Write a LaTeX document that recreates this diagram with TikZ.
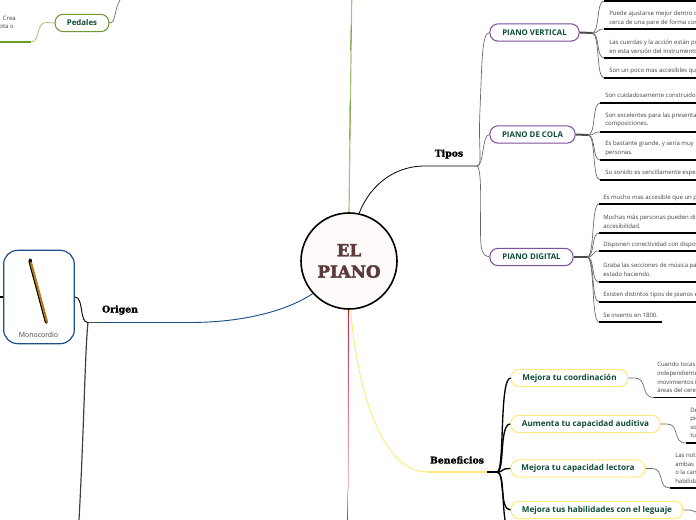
\documentclass[tikz,border=0pt]{standalone}
\usepackage{fontspec}
\setmainfont{Open Sans}
\newfontfamily\headfont[BoldFeatures={FakeBold=1.6}]{DejaVu Serif}
\newfontfamily\hubfont[BoldFeatures={FakeBold=2.5}]{DejaVu Serif}
\usetikzlibrary{calc}
\definecolor{titlegreen}{HTML}{0F4C3A}
\definecolor{leaftext}{HTML}{404040}
\definecolor{purp}{HTML}{7D4FA0}
\definecolor{yell}{HTML}{FFE97A}
\definecolor{greenb}{HTML}{6E9B2D}
\definecolor{greenl}{HTML}{A3C47A}
\definecolor{blueb}{HTML}{1F4E86}
\definecolor{redm}{HTML}{C0263F}
\definecolor{redl}{HTML}{F0C0C8}
\definecolor{brownt}{HTML}{5C3A3A}
\definecolor{wood}{HTML}{B87A1A}
\tikzset{
  x=0.75pt,y=-0.75pt,
  pill/.style={draw,rounded corners=6.2pt,line width=0.8pt,minimum height=13pt,inner sep=0pt,text=titlegreen,font=\bfseries\fontsize{5.9}{7}\selectfont},
  ptype/.style={pill,draw=purp,fill=white},
  pbene/.style={pill,draw=yell,fill=white,font=\bfseries\fontsize{6.1}{7}\selectfont},
  leaf/.style={anchor=west,inner sep=0pt,text=leaftext,align=left,font=\fontsize{4.5}{6.4}\selectfont},
  head/.style={inner sep=0pt,text=black,font=\headfont\bfseries\fontsize{7}{8}\selectfont},
  uline/.style={black,line width=0.8pt},
  twig/.style={draw=black!60,line width=0.5pt},
  stubline/.style={line width=1.5pt,draw=black!70},
}
\begin{document}
\begin{tikzpicture}
\useasboundingbox (0,0) rectangle (696,520);
\clip (0,0) rectangle (696,520);
% main straight branches
\coordinate (gtop) at (351.7,0);
\coordinate (rbot) at (347.4,520);
\draw[color=greenl,line width=0.9pt] (349,214) -- (gtop);
\draw[color=greenb,line width=0.6pt] (350.6,50) -- (351.3,25);
\draw[color=greenb,line width=0.6pt] (349.8,140) -- (350.2,100);
\shade[top color=redm,bottom color=redl] (347.9,309) rectangle (348.7,490);
\shade[top color=redl,bottom color=redm] (347.1,490) rectangle (347.9,520);
% central
\node[circle,draw=black,line width=1.2pt,fill=red!2,minimum size=72pt,inner sep=0pt,align=center,text=brownt,font=\hubfont\bfseries\fontsize{12.5}{16}\selectfont] (c) at (349,261) {EL\\PIANO};
\coordinate (tj) at (477,166);
\draw[black,line width=0.6pt] (c.78) .. controls (368,190) and (390,166) .. (425,166) -- (tj);
\node[head] (tipos) at (449,154) {Tipos};
\coordinate (bj) at (497,472);
\coordinate (bs) at (487,472);
\coordinate (ys) at (427,472);
\draw[yell,line width=0.7pt] (c.272) .. controls (358,400) and (385,472) .. (ys);
\draw[yell,line width=1.3pt] (ys) -- (bs);
\draw[black,line width=1.5pt] (bs) -- (bj);
\node[head] (bene) at (457,460) {Beneficios};
\coordinate (oj) at (88,322.5);
\coordinate (ob) at (100,322.5);
\draw[blueb,line width=0.7pt] (c.222) .. controls (285,312) and (240,322.5) .. (190,322.5) -- (ob);
\draw[black!70,line width=0.9pt] (ob) -- (oj);
\node[head] (orig) at (120,310) {Origen};
\coordinate (lb) at (79,520);
\draw[black!75,line width=0.9pt] (oj) .. controls (85,350) and (84,430) .. (lb);
% Monocordio
\node[draw=blueb,line width=0.9pt,fill=white,rounded corners=10.5pt,minimum width=53pt,minimum height=70pt,inner sep=0pt] (mono) at (39,297) {};
\node[inner sep=0pt,text=leaftext,font=\fontsize{5.2}{6.5}\selectfont] (monot) at (38.5,335) {Monocordio};
\coordinate (mwa) at (30.5,261);
\coordinate (mwb) at (47,322);
\draw[black,line width=2.2pt,line cap=round] ($(mwa)+(-0.6,0.4)$) -- ($(mwb)+(-0.7,0.3)$);
\draw[wood,line width=1.6pt,line cap=round] (mwa) -- (mwb);
\draw[black,line width=2.5pt,line cap=round] (30,260) -- (30.5,261);
\coordinate (mleft) at (0,297);
\draw[black,line width=0.9pt] (mleft) -- (mono.west);
\draw[black,line width=0.7pt] (mono.east) .. controls (84,297) and (79,322.5) .. (oj);
% Pedales
\node[pill,draw=greenb,minimum width=40.5pt,fill=white] (ped) at (82,23) {\raisebox{-0.5pt}{Pedales}};
\coordinate (pr) at (120,0);
\coordinate (pgl) at (0,42);
\coordinate (pg) at (31,42);
\draw[twig] (ped.east) .. controls (116,23) and (114,10) .. (pr);
\draw[greenl,line width=0.6pt] (ped.west) -- (46,22.5) .. controls (36,22.5) and (40,42) .. (pg);
\draw[greenb,line width=0.8pt] (pg) -- (pgl);
\node[leaf,anchor=east] (pt1) at (16,18) {. Crea};
\node[leaf,anchor=east] (pt2) at (14,27) {ota o};
% Tipos nodes
\node[ptype,minimum width=67pt] (pv) at (534.5,32.5) {\raisebox{-0.5pt}{PIANO VERTICAL}};
\node[ptype,minimum width=64pt] (pc) at (532.5,134.5) {\raisebox{-0.5pt}{PIANO DE COLA}};
\node[ptype,minimum width=62.5pt] (pd) at (531.5,257) {\raisebox{-0.5pt}{PIANO DIGITAL}};
\draw[twig] (tj) .. controls (483,166) and (478,150) .. (480,110) .. controls (482,60) and (482,33) .. (pv.west);
\draw[twig] (tj) .. controls (484,166) and (482,134.5) .. (pc.west);
\draw[twig] (tj) .. controls (484,170) and (478,240) .. (482,250) .. controls (484,255) and (486,257) .. (pd.west);
% Vertical leaves
\coordinate (vs) at (592,33);
\draw[stubline] (pv.east) -- (vs);
\foreach \y in {1,29,58,78}{
 \draw[twig] (vs) .. controls (600,33) and (596,\y) .. (604,\y);
 \draw[uline] (604,\y) -- (696,\y);
}
\node[leaf] (v1) at (609,18.2) {Puede ajustarse mejor dentro d\\cerca de una pare de forma con};
\node[leaf] (v2) at (609,47) {Las cuerdas y la acción están po\\en esta versión del instrumento};
\node[leaf] (v3) at (609,70.5) {Son un poco mas accesibles que};
% Cola leaves
\coordinate (cs) at (588,135);
\draw[stubline] (pc.east) -- (cs);
\foreach \y in {103,132,160,180}{
 \draw[twig] (cs) .. controls (596,135) and (592,\y) .. (600,\y);
 \draw[uline] (600,\y) -- (696,\y);
}
\node[leaf] (c1) at (605,95.5) {Son cuidadosamente construidos};
\node[leaf] (c2) at (605,120) {Son excelentes para las presenta\\composiciones.};
\node[leaf] (c3) at (605,148.5) {Es bastante grande, y seria muy\\personas.};
\node[leaf] (c4) at (605,173) {Su sonido es sencillamente espe};
% Digital leaves
\coordinate (ds) at (587,257);
\draw[stubline] (pd.east) -- (ds);
\foreach \y in {204,233,251,282,302}{
 \draw[twig] (ds) .. controls (595,257) and (591,\y) .. (599,\y);
 \draw[uline] (599,\y) -- (696,\y);
}
\coordinate (dl) at (662,322);
\coordinate (dk) at (599,322);
\draw[twig] (ds) .. controls (595,257) and (591,322) .. (dk);
\draw[uline] (dk) -- (dl);
\node[leaf] (d1) at (603,198) {Es mucho mas accesible que un p};
\node[leaf] (d2) at (603,222) {Muchas más personas pueden dis\\accesibilidad.};
\node[leaf] (d3) at (603,245) {Disponen conectividad con dispos};
\node[leaf] (d4) at (603,269.5) {Graba las secciones de música pa\\estado haciendo.};
\node[leaf] (d5) at (603,295) {Existen distintos tipos de pianos e};
\node[leaf] (d6) at (603,315) {Se invento en 1800.};
% Beneficios nodes
\node[pbene,minimum width=87.5pt] (b1) at (569.5,378) {\raisebox{-0.5pt}{Mejora tu coordinación}};
\node[pbene,minimum width=112pt] (b2) at (585.5,424) {\raisebox{-0.5pt}{Aumenta tu capacidad auditiva}};
\node[pbene,minimum width=100.5pt] (b3) at (578,468.5) {\raisebox{-0.5pt}{Mejora tu capacidad lectora}};
\node[pbene,minimum width=129pt] (b4) at (597,510) {\raisebox{-0.5pt}{Mejora tus habilidades con el leguaje}};
\foreach \n/\yy in {b1/378,b2/424,b3/468.5,b4/510}{
 \draw[black,line width=1pt] (bj) .. controls (505,472) and (499,\yy) .. (\n.west);
}
\coordinate (bb) at (505,520);
\draw[black,line width=1pt] (bj) .. controls (504,472) and (502,500) .. (bb);
% Beneficios leaves
\coordinate (e1a) at (654,397.5); \coordinate (e1b) at (696,397.5);
\coordinate (e2a) at (686,443); \coordinate (e2b) at (696,443);
\coordinate (e3a) at (670,488); \coordinate (e3b) at (696,488);
\coordinate (e4) at (696,512);
\draw[twig] (b1.east) -- (635,378) .. controls (648,378) and (640,397.5) .. (e1a);
\draw[uline] (e1a) -- (e1b);
\draw[twig] (b2.east) -- (667,424) .. controls (680,424) and (672,443) .. (e2a);
\draw[uline] (e2a) -- (e2b);
\draw[twig] (b3.east) -- (652,468.5) .. controls (665,468.5) and (657,488) .. (e3a);
\draw[uline] (e3a) -- (e3b);
\draw[twig] (b4.east) -- (690,510) -- (e4);
\node[leaf] (t1) at (657,377.5) {Cuando tocas\\independiente\\movimientos i\\áreas del cere};
\node[leaf] (t2) at (690,423) {De\\pie\\so\\tu};
\node[leaf] (t3) at (675,468.5) {Las nota\\ambas\\o la can\\habilida};
\end{tikzpicture}
\end{document}
